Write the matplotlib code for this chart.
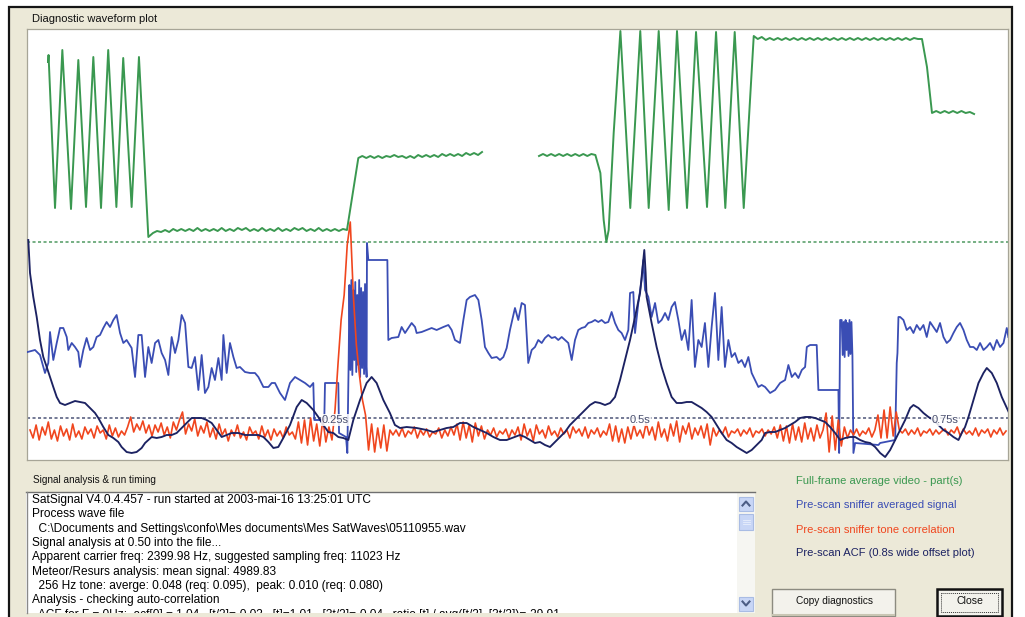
import numpy as np
import matplotlib
matplotlib.use("Agg")
import matplotlib.pyplot as plt
from matplotlib.patches import Rectangle

# ---------------------------------------------------------------- data
# time axis in milliseconds (0.8 s wide window), levels in display units
green_osc1_t = [14.8, 15.2, 20.5, 26.5, 33.6, 39.6, 45.9, 51.9, 58.2, 64.1, 70.8, 76.4, 83.3, 89.3, 97.0]
green_osc1_v = [398, 405, 252, 410, 251, 400, 253, 403, 252, 410, 253, 402, 253, 403, 223]
green_low_span = (100.8, 259.8)
green_low_v = [227, 229, 228, 230, 228, 231, 229, 231, 229, 231, 229, 232, 229, 231, 229, 231, 229,
               232, 229, 231, 229, 232, 230, 232, 229, 231, 229, 232, 229, 231, 229, 232, 229, 231,
               229, 232, 230, 232, 229, 231, 229, 232, 229, 231, 229, 231, 229, 231, 230]
green_high1_span = (269.1, 370.5)
green_high1_v = [302, 304, 302, 304, 302, 304, 302, 304, 303, 305, 303, 304, 302, 304, 302, 305,
                 303, 305, 303, 305, 303, 306, 304, 306, 304, 306, 304, 307, 305, 307, 305, 308]
green_high2_span = (417.2, 463.4)
green_high2_v = [304, 306, 304, 306, 304, 306, 304, 306, 304, 306, 304, 306, 304, 306, 305]
green_osc2_t = [467.5, 470.2, 472.4, 474.3, 478.4, 483.9, 492.0, 500.2, 507.1, 515.3, 523.5,
                530.3, 538.5, 545.9, 554.9, 562.3, 569.9, 577.6, 585.0]
green_osc2_v = [287, 240, 218, 230, 327, 429, 252, 429, 252, 429, 250, 429, 252, 428, 253, 428,
                252, 428, 252]
green_top_span = (593.2, 731.1)
green_top_v = [424, 421, 423, 420, 422, 420, 422, 420, 422, 420, 422, 420, 422, 420, 422, 420,
               422, 420, 422, 420, 422, 420, 422, 420, 422, 420, 422, 420, 422, 420, 422, 420,
               422, 420, 422, 420, 422, 420, 422, 420, 422, 421, 421]
green_fall_t = [735.2]
green_fall_v = [393]
green_low2_span = (739.3, 773.8)
green_low2_v = [347, 349, 347, 349, 347, 349, 347, 349, 347, 348, 346]

blue_pts = [
    (-2, 108), (4.1, 110), (8.2, 105), (12.3, 87), (15.0, 97), (16.4, 128), (19.1, 100), (21.9, 117),
    (24.6, 132), (27.3, 132), (30.1, 123), (31.4, 110), (34.2, 117), (36.9, 113), (39.6, 108),
    (41.0, 93), (43.7, 110), (46.4, 122), (49.2, 110), (51.9, 113), (54.6, 123), (57.4, 125),
    (60.1, 132), (62.8, 138), (65.6, 133), (68.3, 140), (71.0, 145), (73.8, 127), (76.5, 117),
    (79.2, 120), (83.3, 112), (86.1, 83), (88.8, 125), (91.5, 125), (94.3, 83), (97.0, 113),
    (99.7, 97), (102.5, 117), (105.2, 120), (107.9, 107), (110.7, 100), (113.4, 85), (116.1, 123),
    (118.9, 107), (121.6, 120), (124.3, 145), (127.1, 137), (129.8, 93), (132.5, 92), (135.2, 103),
    (138.0, 70), (140.7, 105), (143.4, 67), (146.2, 73), (148.9, 92), (151.6, 80), (154.4, 102),
    (157.1, 80), (158.5, 125), (161.2, 87), (163.9, 117), (166.7, 103), (169.4, 92), (172.1, 93),
    (176.2, 88), (180.3, 87), (184.4, 87), (187.2, 83), (191.3, 73), (195.4, 73), (198.1, 77),
    (200.8, 77), (204.9, 67), (209.0, 60), (213.1, 77), (217.2, 83), (221.3, 80), (225.4, 77),
    (229.5, 73), (232.2, 77), (233.0, 40), (241.2, 40), (241.8, 77), (252.7, 77), (253.3, 27),
    (259.0, 23), (260.1, 7), (261.2, 100),
    (261.8, 175), (262.6, 90), (263.4, 180), (264.2, 85), (265.0, 170), (265.8, 100), (266.6, 178),
    (267.4, 88), (268.2, 165), (269.0, 95), (269.8, 180), (270.6, 83), (271.4, 172), (272.2, 92),
    (273.0, 168), (273.8, 86), (274.6, 176), (275.4, 95),
    (275.9, 83), (276.2, 217), (277.3, 200), (292.9, 200), (293.7, 120), (296.4, 122), (301.9, 123),
    (304.6, 133), (307.4, 127), (310.1, 132), (312.8, 137), (315.6, 133), (316.9, 127), (321.0, 128),
    (325.1, 130), (329.2, 132), (333.3, 130), (338.8, 133), (342.9, 135), (345.6, 130), (348.3, 120),
    (352.4, 117), (355.2, 140), (357.9, 160), (360.6, 163), (364.7, 165), (367.5, 160), (370.2, 140),
    (372.9, 113), (375.7, 107), (378.4, 102), (382.5, 103), (385.2, 100), (388.0, 103), (390.7, 112),
    (393.4, 130), (397.5, 152), (400.2, 140), (403.0, 157), (405.7, 155), (408.4, 97), (411.2, 110),
    (413.9, 113), (416.6, 120), (419.4, 117), (422.1, 122), (424.8, 125), (427.6, 122), (430.3, 123),
    (433.0, 120), (435.8, 123), (438.5, 120), (441.2, 117), (444.0, 100), (446.7, 120), (449.4, 130),
    (452.1, 132), (454.9, 133), (457.6, 137), (460.3, 138), (463.1, 140), (465.8, 138), (468.5, 140),
    (471.3, 137), (474.0, 138), (476.7, 148), (479.5, 137), (482.2, 130), (484.9, 127), (487.7, 120),
    (490.4, 130), (491.8, 167), (494.5, 168), (495.9, 127), (498.6, 157), (501.3, 180), (502.7, 200),
    (504.1, 170), (506.8, 163), (509.5, 143), (512.3, 157), (515.0, 137), (517.7, 140), (520.5, 147),
    (523.2, 140), (525.9, 153), (528.6, 158), (531.4, 140), (534.1, 120), (536.8, 130), (539.6, 110),
    (542.3, 160), (545.0, 93), (547.8, 120), (550.5, 113), (553.2, 137), (556.0, 93), (558.7, 133),
    (561.4, 167), (564.2, 100), (566.9, 153), (569.6, 93), (572.4, 120), (575.1, 103), (577.8, 107),
    (580.6, 97), (583.3, 100), (586.0, 93), (588.8, 103), (591.5, 87), (594.2, 80), (597.0, 73),
    (599.7, 75), (602.5, 73), (606.6, 67), (610.7, 70), (614.8, 77), (618.9, 80), (621.6, 95),
    (624.4, 83), (627.1, 87), (629.8, 82), (632.6, 90), (635.3, 93), (636.7, 113), (639.4, 115),
    (644.8, 115), (646.2, 70), (662.6, 70), (663.2, 7), (664.0, 140),
    (665.3, 140), (666.1, 105), (666.9, 138), (667.7, 103), (668.5, 140), (669.3, 110), (670.1, 137),
    (670.9, 104), (671.7, 140), (672.5, 106), (673.3, 138), (674.1, 104),
    (674.9, 7), (676.3, 17), (695.4, 15), (696.8, 17), (709.1, 20), (710.4, 97), (711.0, 107),
    (711.8, 143), (713.2, 143), (715.9, 140), (718.6, 130), (721.4, 133), (724.1, 127), (726.8, 135),
    (729.5, 130), (732.3, 135), (735.0, 123), (737.7, 138), (740.5, 133), (743.2, 128), (745.9, 137),
    (748.7, 123), (751.4, 117), (754.1, 120), (756.9, 127), (759.6, 133), (762.3, 137), (765.1, 130),
    (767.8, 120), (770.5, 113), (773.3, 113), (776.0, 110), (778.7, 117), (781.5, 110), (784.2, 113),
    (786.9, 117), (789.7, 110), (792.4, 120), (795.1, 113), (797.9, 117), (800.6, 132), (801.9, 123),
]

acf_pts = [
    (-1.4, 220), (0, 187), (2.7, 163), (5.5, 143), (8.2, 120), (10.9, 103), (13.7, 93), (16.4, 83),
    (19.1, 73), (21.9, 63), (24.6, 57), (28.7, 55), (32.8, 57), (36.9, 59), (41.0, 58), (45.1, 57),
    (49.2, 52), (53.3, 47), (56.0, 42), (60.1, 33), (64.2, 25), (68.3, 22), (72.4, 18), (75.1, 13),
    (79.2, 8), (83.3, 7), (87.4, 8), (91.5, 12), (94.3, 17), (97.0, 20), (99.7, 23), (103.8, 22),
    (107.9, 23), (112.0, 25), (116.1, 25), (120.2, 27), (124.3, 32), (128.4, 37), (132.5, 42),
    (136.6, 42), (140.7, 42), (144.8, 40), (148.9, 37), (153.0, 30), (157.1, 23), (161.2, 25),
    (165.3, 27), (170.8, 27), (176.2, 25), (181.7, 25), (187.2, 25), (191.3, 23), (195.4, 18),
    (199.5, 12), (203.5, 13), (207.6, 22), (213.1, 35), (218.6, 53), (222.7, 60), (226.8, 57),
    (232.2, 50), (236.3, 43), (240.4, 35), (244.5, 28), (248.6, 27), (252.7, 23), (256.8, 22),
    (260.9, 20), (265.0, 40), (270.5, 60), (275.9, 77), (280.0, 83), (284.1, 77), (289.6, 60),
    (295.0, 47), (299.1, 35), (303.3, 32), (308.7, 33), (316.9, 32), (325.1, 30), (330.6, 28),
    (336.1, 30), (341.5, 32), (347.0, 33), (352.4, 37), (357.9, 37), (363.4, 33), (368.8, 30),
    (374.3, 27), (379.8, 23), (385.2, 20), (390.7, 20), (395.1, 22), (401.6, 25), (405.7, 23),
    (409.8, 20), (413.9, 17), (418.0, 18), (422.1, 15), (426.2, 13), (430.3, 18), (434.4, 23),
    (438.5, 28), (442.6, 35), (446.7, 40), (450.8, 45), (454.9, 50), (459.0, 55), (463.1, 58),
    (467.2, 57), (471.3, 55), (475.4, 57), (479.5, 63), (483.6, 80), (487.7, 100), (491.8, 120),
    (495.9, 143), (500.0, 167), (502.7, 200), (503.5, 210), (504.6, 187), (505.4, 163), (509.5, 137),
    (513.6, 113), (517.7, 93), (521.8, 77), (525.9, 63), (530.0, 57), (534.1, 57), (538.2, 58),
    (542.3, 58), (546.4, 55), (550.5, 52), (554.6, 48), (558.7, 43), (562.8, 35), (566.9, 27),
    (571.0, 20), (575.1, 17), (579.2, 13), (583.3, 10), (587.4, 7), (591.5, 10), (595.6, 15),
    (599.7, 20), (602.5, 27), (606.6, 28), (610.7, 28), (614.8, 30), (618.9, 32), (623.0, 35),
    (627.1, 38), (631.2, 42), (635.3, 43), (639.4, 43), (643.5, 42), (647.6, 40), (651.7, 38),
    (655.8, 33), (659.9, 27), (664.0, 20), (668.1, 22), (672.2, 23), (676.3, 23), (680.4, 20),
    (684.5, 18), (688.6, 17), (692.7, 13), (696.8, 7), (700.9, 3), (705.0, 10), (709.1, 20),
    (713.2, 30), (717.3, 40), (721.4, 52), (724.1, 55), (728.2, 52), (732.3, 47), (736.4, 43),
    (740.5, 40), (744.6, 35), (748.7, 30), (752.8, 27), (756.9, 23), (761.0, 20), (763.7, 27),
    (766.4, 33), (769.2, 43), (773.3, 60), (777.4, 77), (781.5, 87), (784.2, 92), (788.3, 87),
    (792.4, 77), (796.5, 63), (800.6, 52), (803.3, 45),
]

red_dt = 2.5  # ms between samples
red_v = [
    30, 22, 35, 20, 33, 25, 38, 21, 30, 19, 34, 24, 31, 20, 36, 23, 29, 21, 33, 26,
    31, 22, 34, 27, 30, 21, 35, 24, 32, 23, 29, 25, 33, 43, 28, 36, 30, 39, 27, 35,
    24, 35, 28, 37, 25, 33, 22, 38, 30, 40, 48, 26, 36, 29, 41, 24, 34, 27, 38, 23,
    32, 21, 36, 25, 31, 19, 30, 24, 35, 22, 28, 20, 33, 26, 29, 21, 34, 23, 30, 20,
    31, 24, 29, 22, 33, 25, 28, 21, 38, 17, 40, 15, 42, 19, 36, 14, 41, 18, 33, 20,
    50, 97, 140, 165, 215, 238, 165, 115, 85, 60, 45, 10, 36, 8, 32, 12, 35, 9, 30, 25,
    30, 24, 32, 23, 29, 26, 33, 22, 30, 25, 31, 23, 28, 26, 32, 22, 30, 24, 33, 25,
    36, 20, 38, 22, 35, 18, 37, 24, 34, 21, 30, 25, 32, 23, 29, 26, 31, 22, 30, 25,
    33, 20, 36, 24, 31, 19, 35, 26, 30, 22, 34, 25, 29, 23, 32, 26, 30, 22, 33, 27,
    31, 24, 33, 22, 30, 26, 32, 23, 29, 25, 36, 19, 34, 18, 31, 17, 33, 21, 35, 24,
    30, 22, 37, 25, 33, 20, 38, 23, 31, 19, 36, 24, 39, 18, 34, 26, 37, 21, 32, 25,
    34, 22, 36, 15, 32, 24, 30, 26, 33, 23, 29, 27, 31, 24, 30, 26, 32, 23, 29, 27,
    31, 24, 30, 26, 33, 22, 35, 19, 34, 17, 36, 20, 33, 18, 37, 21, 32, 19, 35, 22,
    30, 47, 8, 44, 10, 40, 14, 33, 22, 30, 25, 31, 24, 29, 26, 32, 23, 30, 45, 22,
    50, 22, 53, 24, 48, 30, 27, 31, 25, 30, 26, 32, 24, 29, 27, 31, 25, 30, 26, 29,
    31, 25, 30, 27, 33, 24, 31, 26, 29, 25, 32, 24, 30, 27, 31, 23, 30, 26, 32, 25,
    29,
]

green_ref_level = 218
acf_ref_level = 42
time_marks = [250, 500, 750]
time_labels = ["0.25s", "0.5s", "0.75s"]

legend_labels = ["Full-frame average video - part(s)", "Pre-scan sniffer averaged signal",
                 "Pre-scan sniffer tone correlation", "Pre-scan ACF (0.8s wide offset plot)"]
log_lines = [
    "SatSignal V4.0.4.457 - run started at 2003-mai-16 13:25:01 UTC",
    "Process wave file",
    "  C:\\Documents and Settings\\confo\\Mes documents\\Mes SatWaves\\05110955.wav",
    "Signal analysis at 0.50 into the file...",
    "Apparent carrier freq: 2399.98 Hz, suggested sampling freq: 11023 Hz",
    "Meteor/Resurs analysis: mean signal: 4989.83",
    "  256 Hz tone: averge: 0.048 (req: 0.095),  peak: 0.010 (req: 0.080)",
    "Analysis - checking auto-correlation",
    "  ACF for F = 0Hz:  acf[0] = 1.04,  [t/2]=-0.03,  [t]=1.01,  [3t/2]=-0.04,  ratio [t] / avg([t/2], [3t/2])=-29.91",
]

# ---------------------------------------------------------------- styles
C_GREEN = "#3a9850"
C_BLUE = "#3a4db4"
C_RED = "#f0461e"
C_NAVY = "#1c2262"
C_BG = "#ece9d8"
FONT = "Liberation Sans"

W, H = 1025, 617
fig = plt.figure(figsize=(W / 100, H / 100), dpi=100)
fig.patch.set_facecolor("white")

ui = fig.add_axes([0, 0, 1, 1])
ui.set_xlim(0, W)
ui.set_ylim(H, 0)
ui.axis("off")

# dialog frame
ui.add_patch(Rectangle((9, 7), 1003, 620, fc=C_BG, ec="#151515", lw=1.6))

# plot panel
ax = fig.add_axes([27 / W, 1 - 460 / H, 981 / W, 431 / H])
ax.set_facecolor("white")
for s in ax.spines.values():
    s.set_color("#a7a597")
    s.set_linewidth(0.9)
ax.set_xticks([])
ax.set_yticks([])
ax.set_xlim(-2.46, 801.6)
ax.set_ylim(0, 431)


def seg(span, vals):
    return np.linspace(span[0], span[1], len(vals)), np.asarray(vals, float)


parts = [
    (np.asarray(green_osc1_t, float), np.asarray(green_osc1_v, float)),
    seg(green_low_span, green_low_v),
    seg(green_high1_span, green_high1_v),
    (np.array([np.nan]), np.array([np.nan])),
    seg(green_high2_span, green_high2_v),
    (np.asarray(green_osc2_t, float), np.asarray(green_osc2_v, float)),
    seg(green_top_span, green_top_v),
    (np.asarray(green_fall_t, float), np.asarray(green_fall_v, float)),
    seg(green_low2_span, green_low2_v),
]
g_t = np.concatenate([p[0] for p in parts])
g_v = np.concatenate([p[1] for p in parts])

b_t, b_v = zip(*blue_pts)
a_t, a_v = zip(*acf_pts)
r_t = np.arange(len(red_v)) * red_dt

ax.axhline(green_ref_level, color="#4f9a62", lw=1.1, ls=(0, (2.0, 1.6)), zorder=1)
ax.axhline(acf_ref_level, color="#4d5578", lw=1.1, ls=(0, (2.0, 1.6)), zorder=1)
ax.plot(g_t, g_v, color=C_GREEN, lw=1.4, zorder=2)
ax.plot(b_t, b_v, color=C_BLUE, lw=1.3, zorder=3)
ax.plot(r_t, red_v, color=C_RED, lw=1.2, zorder=4)
ax.plot(a_t, a_v, color=C_NAVY, lw=1.35, zorder=5)
for tm, lab in zip(time_marks, time_labels):
    ax.text(tm, acf_ref_level - 2, lab, ha="center", va="center", fontsize=8, family=FONT,
            color="#4a5070", zorder=6,
            bbox=dict(boxstyle="square,pad=0.05", fc="white", ec="none", alpha=0.85))

renderer = fig.canvas.get_renderer()


def fit(t, width_px):
    w = t.get_window_extent(renderer).width
    t.set_fontsize(t.get_fontsize() * width_px / w)
    return t.get_fontsize()


# captions
t1 = ui.text(32, 19, "Diagnostic waveform plot", ha="left", va="center", fontsize=8,
             family=FONT, color="#111")
fit(t1, 125)
t2 = ui.text(33, 480, "Signal analysis & run timing", ha="left", va="center", fontsize=8,
             family=FONT, color="#111")
fit(t2, 124)

# log text box
box = Rectangle((26, 491.5), 729, 121, fc="white", ec="none")
ui.add_patch(box)
ui.plot([26, 755], [491.8, 491.8], color="#6f6f6f", lw=1.0)
ui.plot([26.5, 26.5], [491.5, 613], color="#8a8a8a", lw=1.0)
tmp = ui.text(32, 500, log_lines[0], ha="left", va="center", fontsize=8, family=FONT)
fs_log = fit(tmp, 340)
tmp.remove()
for i, line in enumerate(log_lines):
    tt = ui.text(31.5, 500 + i * 14.35, line, ha="left", va="center", fontsize=fs_log,
                 family=FONT, color="#000", clip_on=True)
    tt.set_clip_path(box)

# scrollbar
ui.add_patch(Rectangle((737, 492.5), 18, 120, fc="#f6f6f2", ec="none"))
for (y0, h) in [(496.5, 14), (513.5, 16), (597, 14)]:
    ui.add_patch(Rectangle((739, y0), 14, h, fc="#c8d6f6", ec="#a9bce4", lw=0.8))
ui.plot([742.5, 746, 749.5], [505.5, 501.5, 505.5], color="#4c5d86", lw=1.5)
ui.plot([742.5, 746, 749.5], [601.5, 605.5, 601.5], color="#4c5d86", lw=1.5)
for yy in [519.5, 521.5, 523.5]:
    ui.plot([742.5, 749.5], [yy, yy], color="#e8eefc", lw=0.6)

# legend labels
legend_colors = [C_GREEN, C_BLUE, C_RED, C_NAVY]
legend_y = [481, 504.5, 530, 553]
tmp = ui.text(796, 481, legend_labels[0], ha="left", va="center", fontsize=8, family=FONT)
fs_leg = fit(tmp, 167)
tmp.remove()
for lab, col, yy in zip(legend_labels, legend_colors, legend_y):
    ui.text(796, yy, lab, ha="left", va="center", fontsize=fs_leg, family=FONT, color=col)

# buttons
ui.add_patch(Rectangle((772, 589), 123, 27, fc="#f3f2ec", ec="#8c8b80", lw=1.0))
ui.plot([773, 894], [614.5, 614.5], color="#c9c6b4", lw=1.5)
tb = ui.text(834, 601, "Copy diagnostics", ha="center", va="center", fontsize=8,
             family=FONT, color="#111")
fit(tb, 78)
ui.add_patch(Rectangle((937, 589), 65, 27, fc="#f3f2ec", ec="#111111", lw=1.8))
ui.add_patch(Rectangle((941, 593), 57, 19, fill=False, ec="#333", lw=0.7, ls=(0, (1, 1))))
tc = ui.text(970, 601.5, "Close", ha="center", va="center", fontsize=8, family=FONT, color="#111")
fit(tc, 27)

fig.savefig("out.png", dpi=100, facecolor=fig.get_facecolor())
